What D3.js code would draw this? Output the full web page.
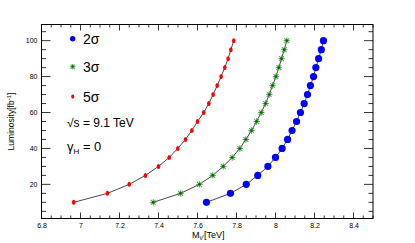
<!DOCTYPE html>
<html><head><meta charset="utf-8">
<script src="https://cdn.jsdelivr.net/npm/d3@7"></script>
<style>body{margin:0;background:#fff}svg{display:block;font-family:"Liberation Sans",Arial,sans-serif}</style>
</head><body>
<svg id="c" width="415" height="243"></svg>
<script>
const lumi = [10,15,20,25,30,35,40,45,50,55,60,65,70,75,80,85,90,95,100];
const mass5 = [6.965,7.138,7.25,7.333,7.40,7.455,7.499,7.538,7.571,7.60,7.632,7.658,7.68,7.701,7.721,7.740,7.757,7.771,7.786];
const mass3 = [7.373,7.513,7.610,7.678,7.732,7.778,7.817,7.848,7.877,7.903,7.927,7.949,7.968,7.985,8.002,8.017,8.031,8.045,8.058];
const mass2 = [7.646,7.769,7.850,7.909,7.961,8.000,8.034,8.062,8.085,8.108,8.128,8.147,8.164,8.179,8.195,8.207,8.221,8.235,8.246];
const xTicks = [6.8,7,7.2,7.4,7.6,7.8,8,8.2,8.4];
const yTicks = [20,40,60,80,100];

const svg = d3.select("#c");
const L=41.5,R=373,T=24.5,B=218.5;
const x = d3.scaleLinear().domain([6.8,8.5]).range([L,R]);
const y = d3.scaleLinear().domain([1,109]).range([B,T]);

// frame
svg.append("rect").attr("x",L).attr("y",T).attr("width",R-L).attr("height",B-T)
  .attr("fill","none").attr("stroke","#000").attr("stroke-width",1);

const xMinor = d3.range(6.8,8.5001,0.05).map(v=>+v.toFixed(2));
const yMinor = d3.range(5,109,5);
const fmt = v => (Math.round(v*10)/10).toString();

// bottom axis
const gb = svg.append("g").attr("transform",`translate(0,${B})`);
gb.call(d3.axisBottom(x).tickValues(xMinor).tickSize(0).tickFormat(""));
gb.select(".domain").remove();
gb.selectAll(".tick line").remove();
xMinor.forEach(v=>{
  const major = xTicks.some(t=>Math.abs(t-v)<1e-6);
  gb.append("line").attr("x1",x(v)).attr("x2",x(v)).attr("y1",0).attr("y2",major?-6:-3).attr("stroke","#000").attr("stroke-width",0.8);
});
const gbl = svg.append("g").attr("transform",`translate(0,${B})`)
  .call(d3.axisBottom(x).tickValues(xTicks).tickSize(0).tickPadding(5).tickFormat(fmt));
gbl.select(".domain").remove();
gbl.selectAll("text").attr("font-size",7).attr("fill","#000").attr("font-family","Liberation Sans, Arial, sans-serif");

// top axis ticks
xMinor.forEach(v=>{
  const major = xTicks.some(t=>Math.abs(t-v)<1e-6);
  svg.append("line").attr("x1",x(v)).attr("x2",x(v)).attr("y1",T).attr("y2",T+(major?6:3)).attr("stroke","#000").attr("stroke-width",0.8);
});

// left axis
const gl = svg.append("g").attr("transform",`translate(${L},0)`)
  .call(d3.axisLeft(y).tickValues(yTicks).tickSize(0).tickPadding(4).tickFormat(d3.format("d")));
gl.select(".domain").remove();
gl.selectAll("text").attr("font-size",7).attr("fill","#000").attr("font-family","Liberation Sans, Arial, sans-serif");
yMinor.forEach(v=>{
  const major = yTicks.includes(v);
  svg.append("line").attr("x1",L).attr("x2",L+(major?9:4.5)).attr("y1",y(v)).attr("y2",y(v)).attr("stroke","#000").attr("stroke-width",0.8);
  svg.append("line").attr("x1",R).attr("x2",R-(major?9:4.5)).attr("y1",y(v)).attr("y2",y(v)).attr("stroke","#000").attr("stroke-width",0.8);
});

// axis titles
svg.append("text").attr("transform",`translate(14,${(T+B)/2}) rotate(-90)`).attr("text-anchor","middle")
  .attr("font-size",8.5).attr("fill","#000")
  .html('Luminosity[fb<tspan dy="-3" font-size="6">-1</tspan><tspan dy="3">]</tspan>');
svg.append("text").attr("x",(L+R)/2+1).attr("y",238).attr("text-anchor","middle")
  .attr("font-size",9).attr("fill","#000")
  .html('M<tspan dy="2" font-size="6.5">ν\'</tspan><tspan dy="-2">[TeV]</tspan>');

// series
const series = [
  {name:"5σ", m:mass5, type:"red"},
  {name:"3σ", m:mass3, type:"green"},
  {name:"2σ", m:mass2, type:"blue"}
];
const line = d3.line().x(d=>x(d[0])).y(d=>y(d[1]));

function marker(g, cx, cy, type, s){
  if(type==="blue"){
    g.append("circle").attr("cx",cx).attr("cy",cy).attr("r",3.6*s).attr("fill","#0000ff");
  } else if(type==="red"){
    g.append("ellipse").attr("cx",cx).attr("cy",cy).attr("rx",1.8*s).attr("ry",2.5*s).attr("fill","#ff0000");
  } else {
    const r=3.2*s;
    const gg = g.append("g").attr("transform",`translate(${cx},${cy})`);
    [[-r,0,r,0],[0,-r,0,r],[-r*0.75,-r*0.75,r*0.75,r*0.75],[-r*0.75,r*0.75,r*0.75,-r*0.75]].forEach(a=>{
      gg.append("line").attr("x1",a[0]).attr("y1",a[1]).attr("x2",a[2]).attr("y2",a[3]).attr("stroke","#5aa85a").attr("stroke-width",1.1);
    });
    gg.append("circle").attr("r",1.3*s).attr("fill","#006400");
  }
}

series.forEach(s=>{
  const pts = s.m.map((v,i)=>[v,lumi[i]]);
  svg.append("path").datum(pts).attr("d",line).attr("fill","none").attr("stroke","#333").attr("stroke-width",0.9);
  const g = svg.append("g");
  pts.forEach(p=>marker(g,x(p[0]),y(p[1]),s.type,1));
});

// legend
const leg = [{t:"2σ",type:"blue",yy:38.7},{t:"3σ",type:"green",yy:66.7},{t:"5σ",type:"red",yy:96.5}];
leg.forEach(l=>{
  marker(svg, 72.7, l.yy, l.type, l.type==="blue"?0.75:0.85);
  svg.append("text").attr("x",83).attr("y",l.yy+5).attr("font-size",14).attr("fill","#000").text(l.t);
});
svg.append("text").attr("x",67).attr("y",127).attr("font-size",12).attr("fill","#000").text("√s = 9.1 TeV");
svg.append("text").attr("x",67).attr("y",151).attr("font-size",13).attr("fill","#000")
  .html('γ<tspan dy="3" font-size="8">H</tspan><tspan dy="-3"> = 0</tspan>');
</script>
</body></html>
